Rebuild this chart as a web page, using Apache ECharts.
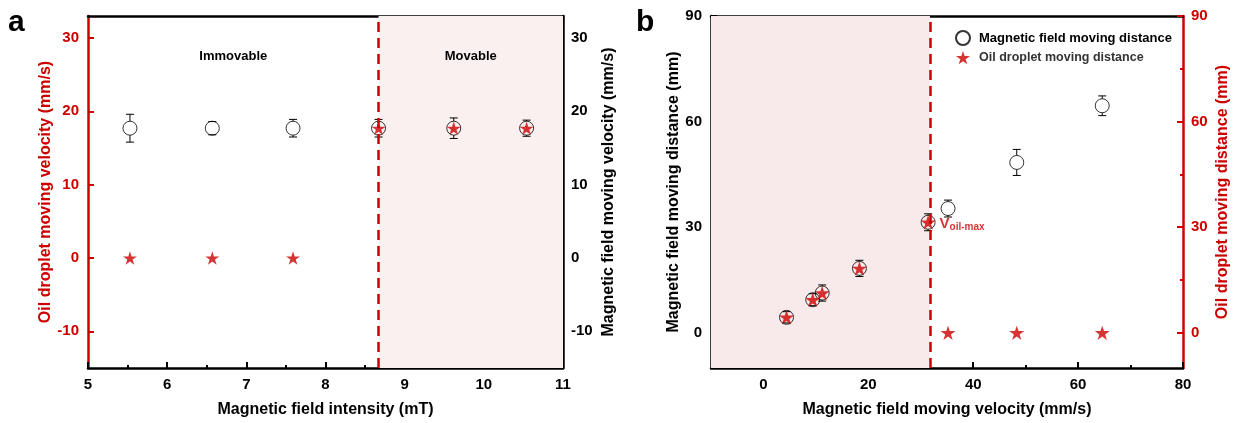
<!DOCTYPE html>
<html>
<head>
<meta charset="utf-8">
<script src="https://cdn.jsdelivr.net/npm/echarts@6/dist/echarts.min.js"></script>
<style>html,body{margin:0;padding:0;background:#fff}#chart{width:1236px;height:423px}</style>
</head>
<body>
<div id="chart"></div>
<script>
// panel a : velocity vs field intensity
var intensity = [5.53, 6.57, 7.59, 8.67, 9.62, 10.54];
var fieldVel = [17.7, 17.7, 17.7, 17.7, 17.7, 17.7];
var fieldVelErr = [1.9, 0.9, 1.2, 1.2, 1.4, 1.1];
var dropVel = [0, 0, 0, 17.7, 17.7, 17.7];
var velTicks = [-10, 0, 10, 20, 30];
var critIntensity = 8.67;

// panel b : distance vs field speed
var fieldSpeed = [4.4, 9.4, 11.2, 18.3, 31.4, 35.2, 48.3, 64.6];
var fieldDist = [4.4, 9.4, 11.3, 18.3, 31.4, 35.3, 48.4, 64.5];
var fieldDistErr = [1.6, 1.7, 2.3, 2.3, 2.4, 2.4, 3.7, 2.8];
var dropDist = [4.4, 9.4, 11.3, 18.3, 31.4, 0, 0, 0];
var speedTicks = [0, 20, 40, 60, 80];
var speedMinor = [10, 30, 50, 70];
var distTicks = [0, 30, 60, 90];
var distMinor = [15, 45, 75];
var maxSpeed = 31.75;

var RED = '#cc0000';
var FONT = '"Liberation Sans", Arial, sans-serif';
var STAR = 'path://M50 0 L61.23 34.55 L97.55 34.55 L68.16 55.9 L79.39 90.45 L50 69.1 L20.61 90.45 L31.84 55.9 L2.45 34.55 L38.77 34.55 Z';

function zip(a, b, c) {
	var out = [];
	for (var i = 0; i < a.length; i++) {
		out.push(c ? [a[i], b[i], c[i]] : [a[i], b[i]]);
	}
	return out;
}

// error bars, gap left where the open circle sits
function errorBar(params, api) {
	var x = api.value(0), y = api.value(1), e = api.value(2);
	var c = api.coord([x, y]), hi = api.coord([x, y + e]), lo = api.coord([x, y - e]);
	var r = 7, w = 4;
	var st = {stroke: '#000', lineWidth: 1};
	var ch = [
		{type: 'line', shape: {x1: c[0] - w, y1: hi[1], x2: c[0] + w, y2: hi[1]}, style: st},
		{type: 'line', shape: {x1: c[0] - w, y1: lo[1], x2: c[0] + w, y2: lo[1]}, style: st}
	];
	if (hi[1] < c[1] - r) ch.push({type: 'line', shape: {x1: c[0], y1: hi[1], x2: c[0], y2: c[1] - r}, style: st});
	if (lo[1] > c[1] + r) ch.push({type: 'line', shape: {x1: c[0], y1: c[1] + r, x2: c[0], y2: lo[1]}, style: st});
	return {type: 'group', children: ch};
}

var tickLbl = function(color) {
	return {color: color, fontFamily: FONT, fontWeight: 'bold', fontSize: 15};
};
var nameStyle = function(color) {
	return {color: color, fontFamily: FONT, fontWeight: 'bold', fontSize: 16};
};
var line = function(color, w) {
	return {onZero: false, lineStyle: {color: color, width: w}};
};
var noLine = {show: false, onZero: false};

var option = {
	animation: false,
	grid: [
		{left: 88, right: 673, top: 16, bottom: 55},
		{left: 711, right: 53, top: 16, bottom: 55}
	],
	legend: {
		left: 950, top: 25, orient: 'vertical', itemGap: 5, itemWidth: 14, itemHeight: 14,
		selectedMode: false,
		data: [
			{name: 'Magnetic field moving distance', textStyle: {color: '#000', fontFamily: FONT, fontWeight: 'bold', fontSize: 13, padding: [0, 0, 0, 4]}},
			{name: 'Oil droplet moving distance', textStyle: {color: '#333', fontFamily: FONT, fontWeight: 'bold', fontSize: 12.5, padding: [0, 0, 0, 4]}}
		]
	},
	graphic: [
		{type: 'text', left: 8, top: 8, style: {text: 'a', font: 'bold 30px ' + FONT, fill: '#000'}},
		{type: 'text', left: 636, top: 8, style: {text: 'b', font: 'bold 30px ' + FONT, fill: '#000'}}
	],
	xAxis: [
		{gridIndex: 0, type: 'value', min: 5, max: 11, interval: 1, position: 'bottom',
			name: 'Magnetic field intensity (mT)', nameLocation: 'middle', nameGap: 34, nameTextStyle: nameStyle('#000'),
			axisLine: line('#000', 2.5),
			axisTick: {inside: true, length: 6, lineStyle: {width: 2}},
			minorTick: {show: true, splitNumber: 2, length: 3, lineStyle: {color: '#000', width: 2}},
			axisLabel: Object.assign({margin: 9}, tickLbl('#000')),
			splitLine: {show: false}},
		{gridIndex: 0, type: 'value', min: 5, max: 11, position: 'top',
			axisLine: line('#000', 2.5), axisTick: {show: false}, axisLabel: {show: false}, splitLine: {show: false}},
		{gridIndex: 1, type: 'value', min: -10, max: 80, position: 'bottom',
			name: 'Magnetic field moving velocity (mm/s)', nameLocation: 'middle', nameGap: 34, nameTextStyle: nameStyle('#000'),
			axisLine: line('#000', 2.5),
			axisTick: {inside: true, length: 6, customValues: speedTicks, lineStyle: {width: 2}},
			axisLabel: Object.assign({margin: 9, customValues: speedTicks}, tickLbl('#000')),
			splitLine: {show: false}},
		{gridIndex: 1, type: 'value', min: -10, max: 80, position: 'bottom',
			axisLine: noLine, axisTick: {inside: true, length: 3, customValues: speedMinor, lineStyle: {color: '#000', width: 2}},
			axisLabel: {show: false}, splitLine: {show: false}},
		{gridIndex: 1, type: 'value', min: -10, max: 80, position: 'top',
			axisLine: line('#000', 2.5), axisTick: {show: false}, axisLabel: {show: false}, splitLine: {show: false}}
	],
	yAxis: [
		{gridIndex: 0, type: 'value', min: -15, max: 33, position: 'left',
			name: 'Oil droplet moving velocity (mm/s)', nameLocation: 'middle', nameGap: 33, nameRotate: 90, nameTextStyle: nameStyle(RED),
			axisLine: line(RED, 2.5),
			axisTick: {inside: true, length: 6, customValues: velTicks, lineStyle: {width: 2}},
			axisLabel: Object.assign({margin: 9, customValues: velTicks}, tickLbl(RED)),
			splitLine: {show: false}},
		{gridIndex: 0, type: 'value', min: -15, max: 33, position: 'right',
			name: 'Magnetic field moving velocity (mm/s)', nameLocation: 'middle', nameGap: 38, nameRotate: 90, nameTextStyle: nameStyle('#000'),
			axisLine: line('#000', 2.5),
			axisTick: {inside: true, length: 6, customValues: velTicks, lineStyle: {width: 2}},
			axisLabel: Object.assign({margin: 8, customValues: velTicks}, tickLbl('#000')),
			splitLine: {show: false}},
		{gridIndex: 1, type: 'value', min: -10, max: 90, position: 'left',
			name: 'Magnetic field moving distance (mm)', nameLocation: 'middle', nameGap: 25, nameRotate: 90, nameTextStyle: nameStyle('#000'),
			axisLine: line('#000', 2.5),
			axisTick: {inside: true, length: 6, customValues: distTicks, lineStyle: {width: 2}},
			axisLabel: Object.assign({margin: 9, customValues: distTicks}, tickLbl('#000')),
			splitLine: {show: false}},
		{gridIndex: 1, type: 'value', min: -10, max: 90, position: 'right',
			name: 'Oil droplet moving distance (mm)', nameLocation: 'middle', nameGap: 32, nameRotate: 90, nameTextStyle: nameStyle(RED),
			axisLine: line(RED, 2.5),
			axisTick: {inside: true, length: 6, customValues: distTicks, lineStyle: {width: 2}},
			axisLabel: Object.assign({margin: 8, customValues: distTicks}, tickLbl(RED)),
			splitLine: {show: false}},
		{gridIndex: 1, type: 'value', min: -10, max: 90, position: 'left',
			axisLine: noLine, axisTick: {inside: true, length: 3, customValues: distMinor, lineStyle: {color: '#000', width: 2}},
			axisLabel: {show: false}, splitLine: {show: false}},
		{gridIndex: 1, type: 'value', min: -10, max: 90, position: 'right',
			axisLine: noLine, axisTick: {inside: true, length: 3, customValues: distMinor, lineStyle: {color: RED, width: 2}},
			axisLabel: {show: false}, splitLine: {show: false}}
	],
	series: [
		// panel a
		{type: 'custom', name: 'errA', xAxisIndex: 0, yAxisIndex: 1, renderItem: errorBar,
			encode: {x: 0, y: 1}, data: zip(intensity, fieldVel, fieldVelErr), silent: true, z: 3,
			markArea: {silent: true,
				label: {show: true, position: 'insideTop', distance: 34, color: '#000', fontFamily: FONT, fontWeight: 'bold', fontSize: 13},
				data: [
					[{name: 'Immovable', xAxis: 5, itemStyle: {color: 'rgba(0,0,0,0)'}}, {xAxis: critIntensity}],
					[{name: 'Movable', xAxis: critIntensity, itemStyle: {color: '#fbf0f0'}}, {xAxis: 11}]
				]},
			markLine: {silent: true, symbol: 'none', label: {show: false},
				lineStyle: {color: RED, type: [10, 6], width: 2.5},
				data: [{xAxis: critIntensity}]}},
		{type: 'scatter', name: 'Magnetic field moving velocity', xAxisIndex: 0, yAxisIndex: 1, symbol: 'circle', symbolSize: 14,
			itemStyle: {color: 'rgba(0,0,0,0)', borderColor: '#000', borderWidth: 1}, data: zip(intensity, fieldVel), z: 4},
		{type: 'scatter', name: 'Oil droplet moving velocity', xAxisIndex: 0, yAxisIndex: 0, symbol: STAR, symbolSize: [14, 13.3],
			itemStyle: {color: RED}, data: zip(intensity, dropVel), z: 5},
		// panel b
		{type: 'custom', name: 'errB', xAxisIndex: 2, yAxisIndex: 2, renderItem: errorBar,
			encode: {x: 0, y: 1}, data: zip(fieldSpeed, fieldDist, fieldDistErr), silent: true, z: 3,
			markArea: {silent: true, data: [[{xAxis: -10, itemStyle: {color: '#f8eaea'}}, {xAxis: maxSpeed}]]},
			markLine: {silent: true, symbol: 'none', label: {show: false},
				lineStyle: {color: RED, type: [10, 6], width: 2.5},
				data: [{xAxis: maxSpeed}]}},
		{type: 'scatter', name: 'Magnetic field moving distance', xAxisIndex: 2, yAxisIndex: 2, symbol: 'circle', symbolSize: 14,
			itemStyle: {color: 'rgba(0,0,0,0)', borderColor: '#000', borderWidth: 1}, data: zip(fieldSpeed, fieldDist), z: 4},
		{type: 'scatter', name: 'Oil droplet moving distance', xAxisIndex: 2, yAxisIndex: 3, symbol: STAR, symbolSize: [15, 14.3],
			itemStyle: {color: RED}, z: 5,
			data: zip(fieldSpeed, dropDist).map(function(d, i) {
				if (i != 4) return d;
				return {value: d, label: {show: true, position: 'right', distance: 4, offset: [0, 2], formatter: '{v|V}{s|oil-max}',
					rich: {v: {color: RED, fontFamily: FONT, fontWeight: 'bold', fontSize: 15},
						s: {color: RED, fontFamily: FONT, fontWeight: 'bold', fontSize: 10, padding: [5, 0, 0, 0]}}}};
			})}
	]
};

var myChart = echarts.init(document.getElementById('chart'));
myChart.setOption(option);
</script>
</body>
</html>
